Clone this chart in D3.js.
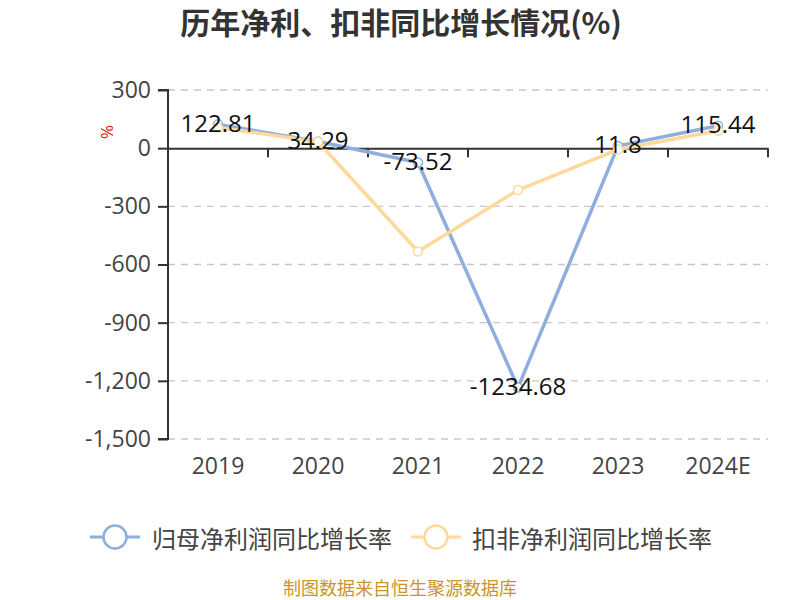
<!DOCTYPE html>
<html><head><meta charset="utf-8">
<script src="https://cdn.jsdelivr.net/npm/d3@7"></script>
<style>body{margin:0;background:#fff;} svg{display:block;}</style>
</head><body>
<svg id="c" width="800" height="600"></svg>
<script>
const categories = ["2019","2020","2021","2022","2023","2024E"];
const netProfitGrowth = [122.81, 34.29, -73.52, -1234.68, 11.8, 115.44];
const deductedGrowth = [107, 33, -533, -216, -7, 90];
const yTicks = [300, 0, -300, -600, -900, -1200, -1500];
const seriesNames = ["归母净利润同比增长率", "扣非净利润同比增长率"];
const title = "历年净利、扣非同比增长情况(%)";
const footer = "制图数据来自恒生聚源数据库";

const colors = ["#8eaedd", "#fed99b"];
const numFont = "'Open Sans','Noto Sans',sans-serif";
const cjkFont = "'Noto Sans CJK SC','Noto Sans',sans-serif";
const fmt = d3.formatLocale({decimal: ".", thousands: ",", grouping: [3], currency: ["", ""], minus: "-"}).format(",");

const svg = d3.select("#c");
const x = d3.scaleBand().domain(categories).range([168, 768]);
const y = d3.scaleLinear().domain([-1500, 300]).range([439, 90]);

// title
svg.append("text").attr("x", 401).attr("y", 21).attr("text-anchor", "middle")
  .attr("dominant-baseline", "central").attr("font-family", cjkFont)
  .attr("font-weight", "bold").attr("font-size", 30).attr("fill", "#333").text(title);

// grid
svg.append("g").selectAll("line").data(yTicks.filter(d => d !== 0)).join("line")
  .attr("x1", 168).attr("x2", 768).attr("y1", d => y(d)).attr("y2", d => y(d))
  .attr("stroke", "#c8c8c8").attr("stroke-width", 1.3).attr("stroke-dasharray", "7,6");

// y axis
const yAxis = svg.append("g").attr("transform", "translate(168,0)")
  .call(d3.axisLeft(y).tickValues(yTicks).tickSize(10).tickPadding(7).tickFormat(fmt));
yAxis.select(".domain").attr("stroke", "#333").attr("stroke-width", 2).attr("d", `M-10,${y(300)}H0V${y(-1500)}H-10`);
yAxis.selectAll(".tick line").attr("stroke", "#333").attr("stroke-width", 2);
yAxis.selectAll(".tick text").attr("font-family", numFont).attr("font-size", 23).attr("fill", "#444");

// x axis at zero
const xAxis = svg.append("g").attr("transform", `translate(0,${y(0)})`)
  .call(d3.axisBottom(x).tickSize(0).tickFormat(""));
xAxis.select(".domain").attr("stroke", "#333").attr("stroke-width", 2);
xAxis.selectAll(".tick").remove();
const bounds = categories.map(c => x(c)).concat([x.range()[1]]).slice(1);
xAxis.selectAll("line.b").data(bounds).join("line").attr("class", "b")
  .attr("x1", d => d).attr("x2", d => d).attr("y1", 0).attr("y2", 9)
  .attr("stroke", "#333").attr("stroke-width", 2);

// x labels
svg.append("g").selectAll("text").data(categories).join("text")
  .attr("x", d => x(d) + x.bandwidth() / 2).attr("y", 465)
  .attr("text-anchor", "middle").attr("dominant-baseline", "central")
  .attr("font-family", numFont).attr("font-size", 23).attr("fill", "#444").text(d => d);

// % unit
svg.append("text").attr("transform", "translate(106,132) rotate(-90)")
  .attr("text-anchor", "middle").attr("dominant-baseline", "central")
  .attr("font-family", numFont).attr("font-size", 17).attr("fill", "#e02020").text("%");

const line = d3.line().x((d, i) => x(categories[i]) + x.bandwidth() / 2).y(d => y(d));
const seriesList = [netProfitGrowth, deductedGrowth];
seriesList.forEach((s, k) => {
  const g = svg.append("g");
  g.append("path").datum(s).attr("d", line).attr("fill", "none")
    .attr("stroke", colors[k]).attr("stroke-width", 3.5).attr("stroke-linejoin", "round");
  g.selectAll("circle").data(s).join("circle")
    .attr("cx", (d, i) => x(categories[i]) + x.bandwidth() / 2).attr("cy", d => y(d))
    .attr("r", 4.5).attr("fill", "#fff").attr("stroke", colors[k]).attr("stroke-width", 1.5);
});
// labels for first series
svg.append("g").selectAll("text").data(netProfitGrowth).join("text")
  .attr("x", (d, i) => x(categories[i]) + x.bandwidth() / 2).attr("y", d => y(d) - 2)
  .attr("text-anchor", "middle").attr("dominant-baseline", "central")
  .attr("font-family", numFont).attr("font-size", 24).attr("fill", "#111").text(d => d);

// legend
const lg = svg.append("g");
const legendItems = [{x: 90, tx: 152}, {x: 411, tx: 472}];
seriesNames.forEach((n, k) => {
  const it = legendItems[k];
  lg.append("line").attr("x1", it.x).attr("x2", it.x + 50).attr("y1", 537).attr("y2", 537)
    .attr("stroke", colors[k]).attr("stroke-width", 3);
  lg.append("circle").attr("cx", it.x + 25).attr("cy", 537).attr("r", 11.5)
    .attr("fill", "#fff").attr("stroke", colors[k]).attr("stroke-width", 2.5);
  lg.append("text").attr("x", it.tx).attr("y", 537).attr("dominant-baseline", "central")
    .attr("font-family", cjkFont).attr("font-size", 24).attr("fill", "#444").text(n);
});

// footer
svg.append("text").attr("x", 400).attr("y", 587).attr("text-anchor", "middle")
  .attr("dominant-baseline", "central").attr("font-family", cjkFont)
  .attr("font-size", 18).attr("fill", "#c9952b").text(footer);
</script>
</body></html>
